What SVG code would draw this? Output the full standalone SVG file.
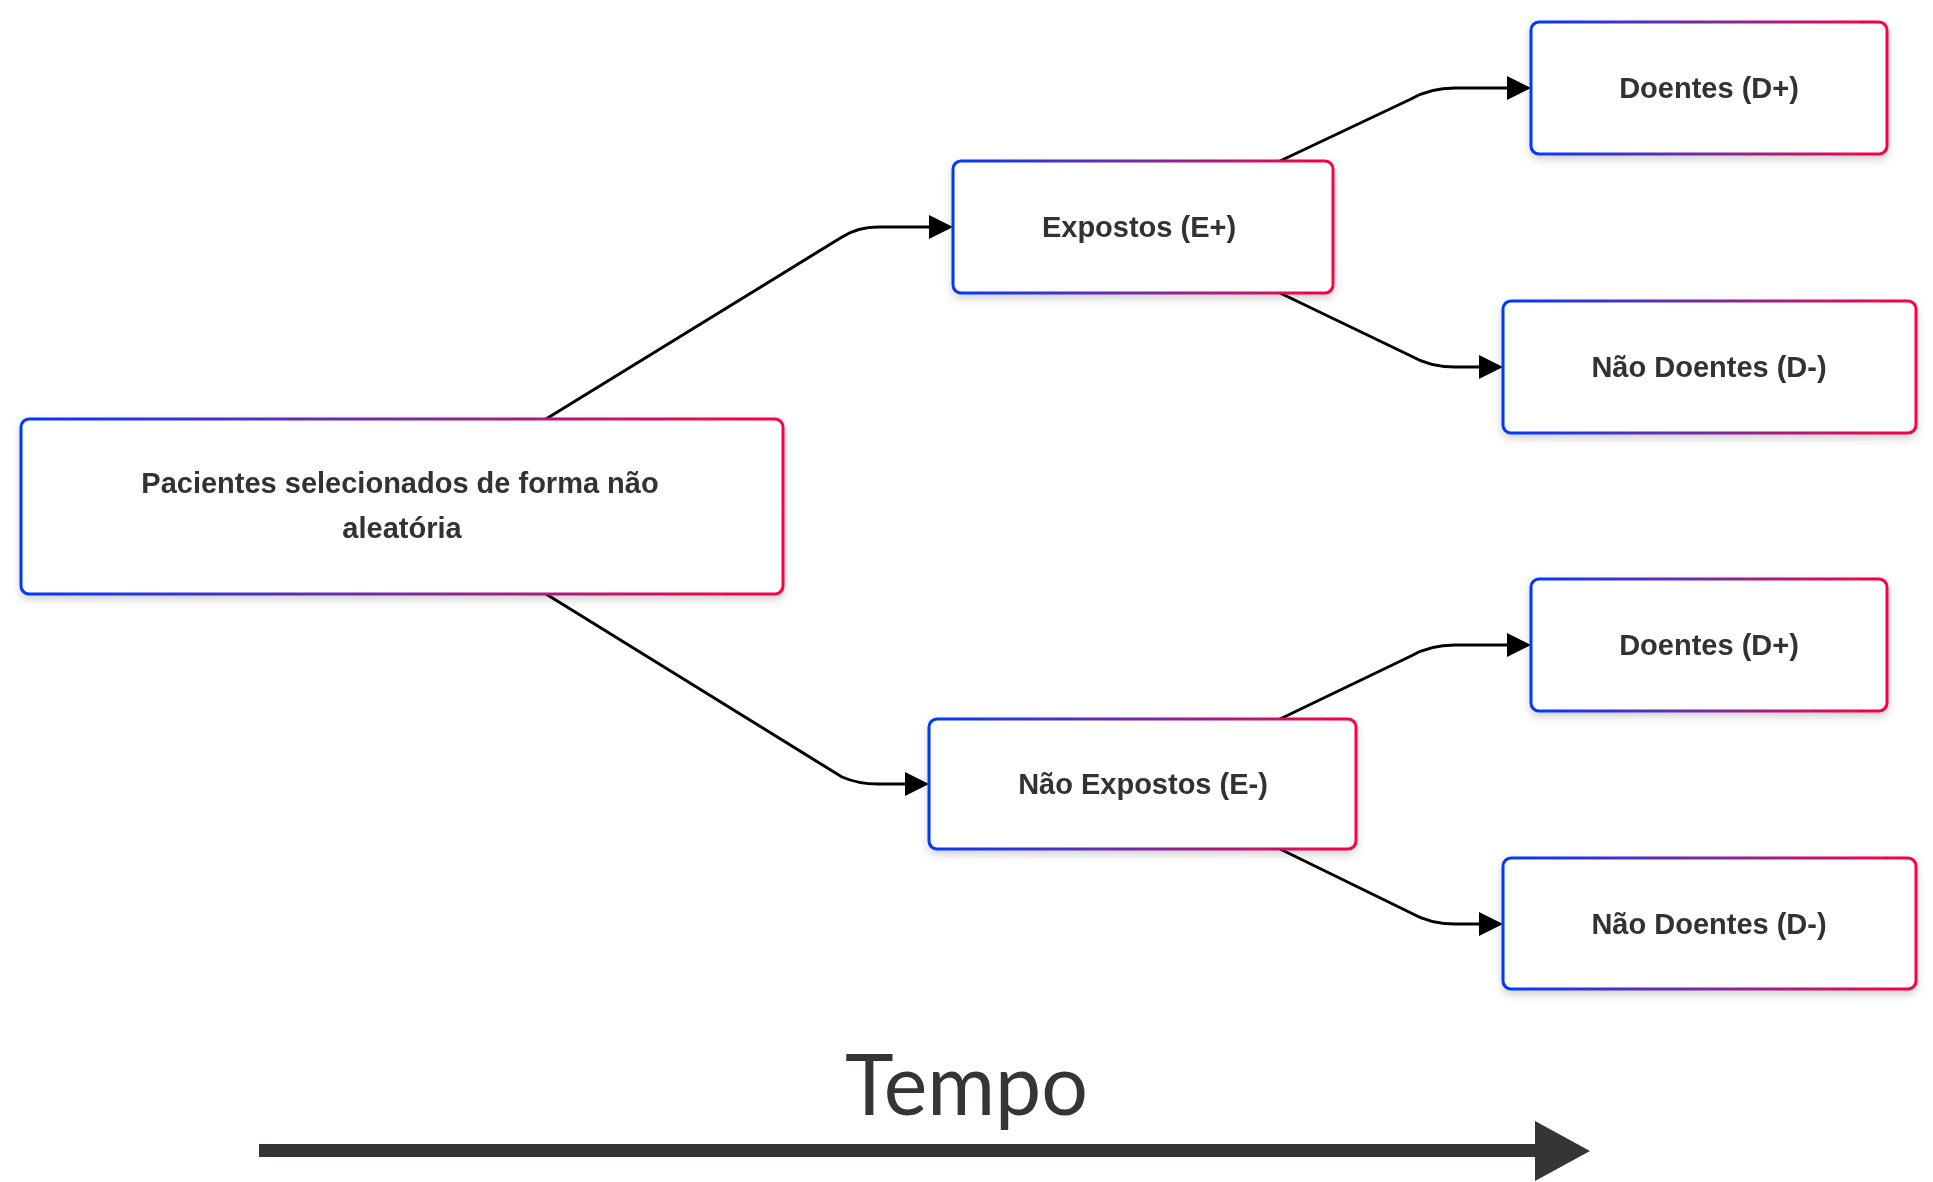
<svg xmlns="http://www.w3.org/2000/svg" width="1933" height="1182" viewBox="0 0 1933 1182">
<style>
.box{fill:#fff;stroke:url(#grad);stroke-width:3}
.lbl{font-family:"Liberation Sans",Arial,sans-serif;font-weight:bold;font-size:29px;fill:#333;text-anchor:middle}
.edge{fill:none;stroke:#000;stroke-width:3}
</style>
<defs>
<linearGradient id="grad" x1="0" y1="0" x2="1" y2="0">
<stop offset="0" stop-color="#0038ff"/>
<stop offset="0.5" stop-color="#7a2a9e"/>
<stop offset="1" stop-color="#ff0040"/>
</linearGradient>
<filter id="sh" x="-10%" y="-10%" width="120%" height="130%">
<feDropShadow dx="0" dy="4" stdDeviation="4" flood-color="#000" flood-opacity="0.18"/>
</filter>
</defs>
<g id="connectors">
<path class="edge" d="M546,419 L842,237 Q858,227 878,227 L931,227"/>
<path class="edge" d="M546,594 L842,777 Q858,784 878,784 L907,784"/>
<path class="edge" d="M1280,161 L1411,99 Q1430,88 1455,88 L1509,88"/>
<path class="edge" d="M1280,293 L1411,356 Q1430,367 1455,367 L1481,367"/>
<path class="edge" d="M1280,719 L1411,656 Q1430,645 1455,645 L1509,645"/>
<path class="edge" d="M1280,849 L1411,913 Q1430,924 1455,924 L1481,924"/>
<g fill="#000">
<path d="M929,215 L953,227 L929,239 Z"/>
<path d="M905,772 L929,784 L905,796 Z"/>
<path d="M1507,76 L1531,88 L1507,100 Z"/>
<path d="M1479,355 L1503,367 L1479,379 Z"/>
<path d="M1507,633 L1531,645 L1507,657 Z"/>
<path d="M1479,912 L1503,924 L1479,936 Z"/>
</g>
</g>
<g id="n_main" filter="url(#sh)">
<rect class="box" x="21" y="419" width="762" height="175" rx="8"/>
<text class="lbl" x="400" y="493">Pacientes selecionados de forma não</text>
<text class="lbl" x="402" y="538">aleatória</text>
</g>
<g id="n_exp" filter="url(#sh)">
<rect class="box" x="953" y="161" width="380" height="132" rx="8"/>
<text class="lbl" x="1139" y="237">Expostos (E+)</text>
</g>
<g id="n_d1" filter="url(#sh)">
<rect class="box" x="1531" y="22" width="356" height="132" rx="8"/>
<text class="lbl" x="1709" y="98">Doentes (D+)</text>
</g>
<g id="n_nd1" filter="url(#sh)">
<rect class="box" x="1503" y="301" width="413" height="132" rx="8"/>
<text class="lbl" x="1709" y="377">Não Doentes (D-)</text>
</g>
<g id="n_nexp" filter="url(#sh)">
<rect class="box" x="929" y="719" width="427" height="130" rx="8"/>
<text class="lbl" x="1143" y="794">Não Expostos (E-)</text>
</g>
<g id="n_d2" filter="url(#sh)">
<rect class="box" x="1531" y="579" width="356" height="132" rx="8"/>
<text class="lbl" x="1709" y="655">Doentes (D+)</text>
</g>
<g id="n_nd2" filter="url(#sh)">
<rect class="box" x="1503" y="858" width="413" height="131" rx="8"/>
<text class="lbl" x="1709" y="934">Não Doentes (D-)</text>
</g>
<g id="timeline">
<text x="845" y="1115" font-family="Lato, 'Open Sans', sans-serif" font-size="86" fill="#363435" textLength="243" lengthAdjust="spacingAndGlyphs">Tempo</text>
<rect x="259" y="1144" width="1280" height="13" fill="#363435"/>
<path d="M1535,1121 L1590,1151 L1535,1181 Z" fill="#363435"/>
</g>
</svg>
